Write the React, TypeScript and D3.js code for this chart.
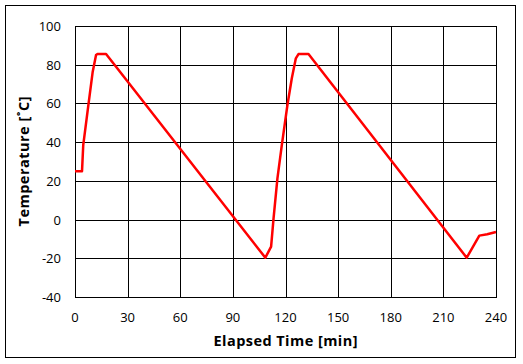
import React from "react";
import * as d3 from "d3";

const timeMin = [0, 4, 4.7, 7.6, 10.1, 12, 12.8, 17.7, 25.3, 108.5, 111.8, 113.2, 115.4, 117.9, 121.1, 123.6, 125.9, 127.4, 133.1, 223.3, 230.5, 235, 240];
const tempC = [25, 25, 38.5, 59, 76.4, 85, 85.5, 85.5, 76.7, -19.7, -14, 0.7, 21.3, 38.5, 59.2, 73, 83.3, 85.5, 85.5, -19.7, -8.3, -7.6, -6.4];
const xTicks = [0, 30, 60, 90, 120, 150, 180, 210, 240];
const yTicks = [-40, -20, 0, 20, 40, 60, 80, 100];

export default function App() {
  const W = 523, H = 364;
  const L = 75, R = 496, T = 26, B = 297;
  const x = d3.scaleLinear().domain([0, 240]).range([L, R]);
  const y = d3.scaleLinear().domain([-40, 100]).range([B, T]);
  const pts = timeMin.map((t, i) => [t, tempC[i]] as [number, number]);
  const line = d3.line<[number, number]>().x(d => x(d[0])).y(d => y(d[1]));
  const font = "'Open Sans', 'Noto Sans', sans-serif";
  return (
    <svg width={W} height={H} style={{ position: "absolute", left: 0, top: 0 }}>
      <rect x={0} y={0} width={W} height={H} fill="#fff" />
      <rect x={5.5} y={5.5} width={510} height={352} fill="#fff" stroke="#000" strokeWidth={1} />
      {xTicks.map(t => (
        <line key={"gx" + t} x1={Math.round(x(t)) + 0.5} x2={Math.round(x(t)) + 0.5} y1={T} y2={B} stroke="#000" strokeWidth={1} />
      ))}
      {yTicks.map(t => (
        <line key={"gy" + t} x1={L} x2={R} y1={Math.round(y(t)) + 0.5} y2={Math.round(y(t)) + 0.5} stroke="#000" strokeWidth={1} />
      ))}
      <rect x={L + 0.5} y={T + 0.5} width={R - L} height={B - T} fill="none" stroke="#000" strokeWidth={1} />
      <path d={line(pts) || ""} fill="none" stroke="#ff0000" strokeWidth={2.5} strokeLinejoin="round" />
      {xTicks.map(t => (
        <text key={"tx" + t} x={x(t)} y={322} textAnchor="middle" fontFamily={font} fontSize={13} fill="#000">{t}</text>
      ))}
      {yTicks.map(t => (
        <text key={"ty" + t} x={61} y={y(t) + 5} textAnchor="end" fontFamily={font} fontSize={13} fill="#000">{t}</text>
      ))}
      <text x={(L + R) / 2} y={346} textAnchor="middle" fontFamily={font} fontSize={14.5} fontWeight="bold" fill="#000" textLength={144} lengthAdjust="spacing">Elapsed Time [min]</text>
      <text transform={`translate(29,${(T + B) / 2}) rotate(-90)`} textAnchor="middle" fontFamily={font} fontSize={14.5} fontWeight="bold" fill="#000" textLength={130} lengthAdjust="spacing">Temperature [˚C]</text>
    </svg>
  );
}
